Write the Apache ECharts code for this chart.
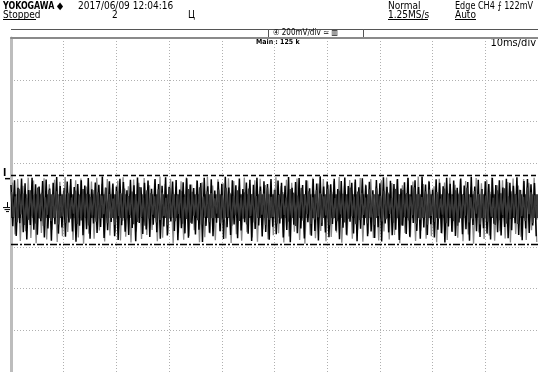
<!DOCTYPE html>
<html><head><meta charset="utf-8">
<script src="https://cdn.jsdelivr.net/npm/echarts@6/dist/echarts.min.js"></script>
<style>html,body{margin:0;padding:0;background:#fff}#c{width:538px;height:372px}</style>
</head><body><div id="c"></div>
<script>
// ---- axes (10 ms/div horizontally, 200 mV/div vertically) ----
const timeMinMs = 0, timeMaxMs = 100, timeDivMs = 10;
const voltMinMv = -800, voltMaxMv = 800, voltDivMv = 200;

// ---- CH4 noise trace, read as peak envelopes (mV) ----
const mainHighMv = [
96,118,83,127,104,72,131,99,88,115,
122,79,107,134,91,68,112,125,86,101,
119,93,129,75,108,97,136,82,114,103,
89,126,110,71,121,95,132,85,106,117,
78,124,100,92,133,87,113,120,74,109,
128,98,81,116,105,130,90,123,69,111,
102,135,84,119,94,127,76,108,121,97,
131,88,114,100,125,73,117,106,92,134,
83,110,129,96,118,80,124,103,137,89,
112,99,126,77,115,132,91,107,122,85,
128,94,111,70,120,104,133,87,116,101,
125,79,109,130,95,119,86,136,98,113,
74,123,106,90,131,102,117,82,127,93,
110,135,88,121,76,114,100,129,96,118,
84,126,107,92,133,72,115,124,99,105];
const mainLowMv = [
-102,-148,-87,-131,-165,-96,-119,-142,-78,-156,
-113,-171,-92,-137,-108,-152,-84,-127,-176,-99,
-145,-116,-161,-89,-134,-105,-158,-121,-81,-149,
-168,-97,-128,-143,-110,-174,-86,-139,-117,-153,
-94,-130,-162,-103,-146,-79,-124,-169,-111,-136,
-157,-90,-141,-118,-177,-100,-133,-150,-85,-126,
-163,-107,-144,-93,-159,-122,-82,-138,-172,-115,
-98,-151,-129,-166,-104,-140,-88,-155,-120,-178,
-95,-135,-112,-160,-83,-147,-125,-170,-101,-132,
-154,-91,-123,-164,-109,-142,-80,-137,-173,-114,
-97,-149,-127,-158,-106,-175,-89,-131,-145,-118,
-167,-99,-139,-152,-86,-124,-161,-108,-143,-92,
-156,-119,-134,-179,-103,-128,-148,-84,-140,-116,
-171,-96,-126,-153,-111,-137,-165,-90,-130,-146,
-105,-159,-121,-87,-144,-169,-113,-134,-98,-150];
const greyHighMv = [
108,125,92,131,117,86,128,99,121,111,
134,95,119,127,88,113,130,102,124,97,
116,133,90,122,106,129,94,118,136,101,
126,87,114,132,98,120,109,135,93,123,
104,128,115,89,131,100,119,126,96,112,
133,91,121,107,127,85,117,130,103,124,
97,114,134,92,120,110,129,99,125,88,
118,132,105,122,94,128,112,136,101,116,
90,126,108,131,97,123,115,87,129,104,
121,133,95,118,110,127,93,125,106,130];
const greyLowMv = [
-141,-172,-126,-158,-183,-134,-165,-118,-177,-149,
-129,-168,-155,-186,-137,-161,-122,-175,-146,-131,
-170,-152,-180,-127,-163,-143,-119,-174,-157,-139,
-184,-133,-166,-148,-121,-178,-154,-136,-169,-125,
-160,-182,-140,-171,-130,-156,-176,-117,-164,-145,
-135,-179,-151,-128,-167,-185,-142,-159,-124,-173,
-153,-132,-181,-147,-162,-120,-176,-138,-158,-170,
-127,-165,-144,-183,-134,-155,-172,-123,-161,-149,
-178,-137,-168,-129,-157,-174,-141,-185,-131,-163,
-146,-171,-125,-160,-180,-139,-152,-168,-121,-177];
const coreHighMv = [
62,41,78,55,33,70,48,84,59,37,
73,51,66,44,81,58,35,69,47,76,
54,39,72,61,45,83,52,31,67,57,
79,43,64,49,86,36,71,56,42,75,
60,34,80,53,46,68,38,77,63,50,
85,40,65,57,32,74,47,82,58,44,
70,36,61,79,52,43,67,55,84,39,
73,48,62,35,76,59,45,81,50,66,
37,71,56,42,78,63,33,69,54,47,
83,40,64,58,36,75,51,80,44,68,
60,34,77,49,72,57,41,85,53,38,
65,74,46,62,31,79,55,43,70,59,
48,82,37,67,52,76,45,63,35,71,
56,80,42,66,50,73,39,84,61,47];
const coreLowMv = [
-58,-83,-45,-96,-71,-52,-89,-64,-100,-47,
-77,-61,-93,-55,-86,-68,-42,-91,-74,-59,
-98,-50,-80,-66,-44,-87,-62,-95,-53,-75,
-69,-48,-92,-81,-57,-99,-65,-46,-84,-72,
-54,-97,-60,-78,-43,-90,-67,-85,-51,-73,
-94,-56,-82,-63,-41,-88,-70,-58,-99,-49,
-76,-65,-93,-52,-84,-61,-46,-96,-71,-57,
-89,-67,-48,-80,-62,-100,-54,-75,-44,-91,
-69,-59,-86,-50,-97,-64,-78,-45,-83,-66,
-55,-92,-72,-47,-88,-60,-95,-53,-79,-68,
-43,-85,-63,-98,-57,-74,-49,-90,-70,-61,
-94,-52,-81,-66,-46,-87,-58,-77,-99,-65,
-51,-84,-69,-42,-93,-62,-80,-56,-96,-73,
-48,-89,-67,-59,-91,-54,-76,-44,-86,-70];
// dense (saturated) centre of the trace
const denseBandMv = [-62, 52];

// ---- cursors / markers (mV) ----
const cursorUpperMv = 143;
const cursorLowerMv = -190;
const groundLevelMv = -10;

// ---- header texts ----
const headerLeft = ['YOKOGAWA \u25C6', '2017/06/09 12:04:16', 'Stopped', '2', '\u0426'];
const headerRight = ['Normal', '1.25MS/s', 'Edge CH4 \u2A0D 122mV', 'Auto'];
const channelBoxText = '\u2463 200mV\u2215div \u2243 \u25A5';
const mainRecordText = 'Main : 125 k';
const timebaseText = '10ms/div';

function zigzag(highs, lows, phase) {
  const n = highs.length, step = (timeMaxMs - timeMinMs) / n, pts = [];
  for (let i = 0; i < n; i++) {
    pts.push([timeMinMs + (i + phase) * step, highs[i]]);
    pts.push([timeMinMs + (i + phase + 0.5) * step, lows[i]]);
  }
  return pts;
}

const FONT = "'Liberation Sans Narrow','Arial Narrow','DejaVu Sans Condensed',sans-serif";
const chart = echarts.init(document.getElementById('c'), null, {renderer: 'canvas'});

function txt(x, y, s, size, weight, extra) {
  const o = {type: 'text', left: x, top: y, style: {text: s, font: (weight || 'normal') + ' ' + size + 'px ' + FONT, fill: '#000'}};
  return Object.assign(o, extra || {});
}
function hline(x1, x2, y, color, w) {
  return {type: 'line', shape: {x1: x1, y1: y, x2: x2, y2: y}, style: {stroke: color, lineWidth: w || 1}};
}

const lineBase = {type: 'line', showSymbol: false, symbol: 'none', sampling: null, animation: false, silent: true};

chart.setOption({
  animation: false,
  grid: {left: 11, top: 38, width: 534, height: 336},
  xAxis: {
    type: 'value', min: timeMinMs, max: timeMaxMs, interval: timeDivMs, position: 'top',
    axisLine: {show: true, onZero: false, lineStyle: {color: '#8a8a8a', width: 2}},
    axisTick: {show: false}, axisLabel: {show: false},
    splitLine: {show: true, lineStyle: {color: '#b0b0b0', width: 1, type: [1, 2]}}
  },
  yAxis: {
    type: 'value', min: voltMinMv, max: voltMaxMv, interval: voltDivMv,
    axisLine: {show: true, onZero: false, lineStyle: {color: '#bdbdbd', width: 3}},
    axisTick: {show: false}, axisLabel: {show: false},
    splitLine: {show: true, lineStyle: {color: '#b0b0b0', width: 1, type: [1, 2]}}
  },
  series: [
    Object.assign({}, lineBase, {name: 'grey', data: zigzag(greyHighMv, greyLowMv, 0.27), lineStyle: {color: '#8a8a8a', width: 1.3},
      markArea: {silent: true, animation: false, itemStyle: {color: '#1a1a1a', opacity: 0.85},
        data: [[{yAxis: denseBandMv[0]}, {yAxis: denseBandMv[1]}]]}}),
    Object.assign({}, lineBase, {name: 'main', data: zigzag(mainHighMv, mainLowMv, 0), lineStyle: {color: '#000', width: 1.5},
      markLine: {silent: true, symbol: 'none', label: {show: false}, animation: false,
        data: [
          {yAxis: cursorUpperMv, lineStyle: {color: '#000', width: 1.3, type: [5, 3]}},
          {yAxis: cursorLowerMv, lineStyle: {color: '#000', width: 1.3, type: [7, 2, 2, 2]}}
        ]}}),
    Object.assign({}, lineBase, {name: 'core', data: zigzag(coreHighMv, coreLowMv, 0.13), lineStyle: {color: '#3a3a3a', width: 1.6}})
  ]
});

const yU = chart.convertToPixel({yAxisIndex: 0}, cursorUpperMv);
const yG = chart.convertToPixel({yAxisIndex: 0}, groundLevelMv);

chart.setOption({
  graphic: [
    txt(3, 1, headerLeft[0], 10, 'bold', {scaleX: 0.88}),
    txt(78, 1, headerLeft[1], 10),
    txt(3, 10, headerLeft[2], 10),
    hline(3, 36, 19.5, '#000', 1),
    txt(112, 10, headerLeft[3], 10),
    txt(188, 10, headerLeft[4], 10),
    txt(388, 1, headerRight[0], 10),
    txt(388, 10, headerRight[1], 10),
    hline(388, 428, 19.5, '#000', 1),
    txt(455, 1, headerRight[2], 10, 'normal', {scaleX: 0.9}),
    txt(455, 10, headerRight[3], 10),
    hline(455, 476, 19.5, '#000', 1),
    hline(11, 538, 29.5, '#555', 1),
    {type: 'rect', shape: {x: 268.5, y: 29.5, width: 95, height: 8}, style: {fill: '#fff', stroke: '#555', lineWidth: 1}},
    txt(273, 29, channelBoxText, 8),
    txt(256, 39, mainRecordText, 7, 'bold'),
    {type: 'text', right: 2, top: 38, style: {text: timebaseText, font: '11px ' + FONT, fill: '#000'}},
    txt(3, yU - 7, 'I', 10, 'bold'),
    hline(5, 10, yU + 3.5, '#000', 1.5),
    {type: 'line', shape: {x1: 7.5, y1: yG - 5, x2: 7.5, y2: yG}, style: {stroke: '#000', lineWidth: 1}},
    hline(3, 12, yG + 0.5, '#000', 1),
    hline(4.5, 10.5, yG + 2.5, '#000', 1),
    hline(6, 9, yG + 4.5, '#000', 1)
  ]
});
</script></body></html>
